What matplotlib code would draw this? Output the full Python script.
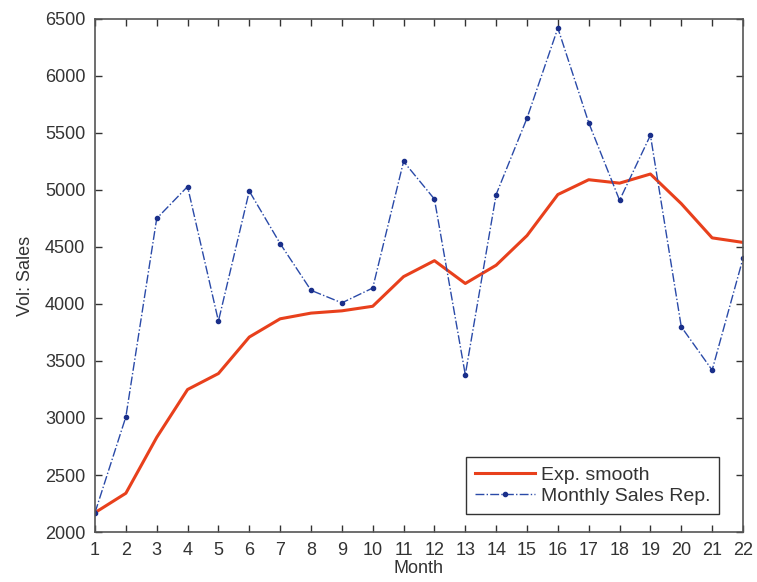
import numpy as np
import matplotlib.pyplot as plt

months = list(range(1, 23))
sales = [2170, 3010, 4750, 5030, 3850, 4990, 4530, 4120, 4010, 4140, 5250,
         4920, 3380, 4960, 5630, 6420, 5590, 4910, 5480, 3800, 3420, 4400]
smooth = [2170, 2340, 2830, 3250, 3390, 3710, 3870, 3920, 3940, 3980, 4240,
          4380, 4180, 4340, 4600, 4960, 5090, 5060, 5140, 4880, 4580, 4540]
yticks = np.arange(2000, 6501, 500)

plt.rcParams['font.family'] = ['Liberation Sans', 'DejaVu Sans']

fig = plt.figure(figsize=(7.57, 5.82), dpi=100)
ax = fig.add_axes([0.1255, 0.0859, 0.856, 0.8815])

ax.plot(months, smooth, color='#e8401c', lw=2.2, label='Exp. smooth')
ax.plot(months, sales, color='#2a4aa8', lw=1.0, linestyle='-.', marker='.',
        markersize=6, markerfacecolor='#1a2f8a', markeredgecolor='#1a2f8a',
        label='Monthly Sales Rep.')

ax.set_xlim(1, 22)
ax.set_ylim(2000, 6500)
ax.set_xticks(months)
ax.set_yticks(yticks)
ax.tick_params(direction='in', top=True, right=True, length=5, width=1,
               color='#333333', labelsize=13, labelcolor='#333333', pad=7)
for s in ax.spines.values():
    s.set_color('#555555')
    s.set_linewidth(1.2)

ax.set_xlabel('Month', fontsize=13, color='#333333', labelpad=1)
ax.set_ylabel('Vol: Sales', fontsize=13, color='#333333', labelpad=8)

leg = ax.legend(loc='lower right', bbox_to_anchor=(0.963, 0.035),
                borderaxespad=0, fontsize=14, fancybox=False, framealpha=1,
                edgecolor='#333333', handlelength=3.1, borderpad=0.45,
                labelspacing=0.2, handletextpad=0.3)
leg.get_frame().set_linewidth(1.0)
for t in leg.get_texts():
    t.set_color('#333333')

fig.savefig('out.png', dpi=100)
